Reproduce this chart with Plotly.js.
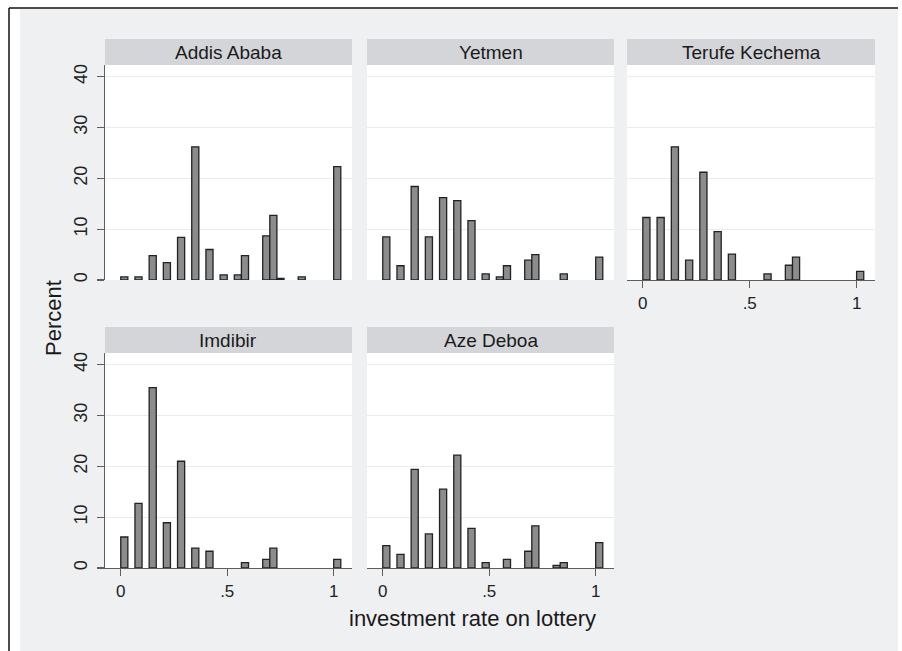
<!DOCTYPE html>
<html>
<head>
<meta charset="utf-8">
<script src="https://cdn.plot.ly/plotly-3.0.1.min.js"></script>
<style>html,body{margin:0;padding:0;background:#fff;}#chart{width:902px;height:651px;}</style>
</head>
<body>
<div id="chart"></div>
<script>
// ---- data: histogram bins (bin index, width 1/30, starting at 0) and percent per panel ----
const panelNames = ["Addis Ababa", "Yetmen", "Terufe Kechema", "Imdibir", "Aze Deboa"];
const binWidth = 1 / 30;

const addisBins = [0, 2, 4, 6, 8, 10, 12, 14, 16, 17, 20, 21, 22, 25, 30];
const addisPct  = [0.6, 0.6, 4.8, 3.4, 8.4, 26.2, 6.0, 1.0, 1.0, 4.8, 8.7, 12.7, 0.3, 0.6, 22.3];

const yetmenBins = [0, 2, 4, 6, 8, 10, 12, 14, 16, 17, 20, 21, 25, 30];
const yetmenPct  = [8.5, 2.8, 18.4, 8.5, 16.2, 15.6, 11.7, 1.2, 0.6, 2.8, 3.9, 5.0, 1.2, 4.5];

const terufeBins = [0, 2, 4, 6, 8, 10, 12, 17, 20, 21, 30];
const terufePct  = [12.3, 12.3, 26.2, 3.9, 21.2, 9.5, 5.1, 1.2, 2.9, 4.5, 1.7];

const imdibirBins = [0, 2, 4, 6, 8, 10, 12, 17, 20, 21, 30];
const imdibirPct  = [6.1, 12.7, 35.5, 8.9, 21.0, 3.9, 3.3, 1.05, 1.7, 3.9, 1.7];

const azeBins = [0, 2, 4, 6, 8, 10, 12, 14, 17, 20, 21, 24, 25, 30];
const azePct  = [4.4, 2.7, 19.4, 6.7, 15.5, 22.2, 7.8, 1.05, 1.7, 3.3, 8.3, 0.5, 1.05, 5.0];

const yTickVals = [0, 10, 20, 30, 40];
const xTickVals = [0, 0.5, 1];
const xTickText = ["0", ".5", "1"];
const yTitle = "Percent";
const xTitle = "investment rate on lottery";

// ---- layout geometry (pixels) ----
const W = 902, H = 651;
const cols = [[105, 352], [367, 614], [627, 875]];
const rows = [[65, 280], [353, 568]];
const strips = [[39, 65], [327, 353]];
const px = v => v / W;
const py = v => 1 - v / H;

const FONT = "Liberation Sans, Arial, Helvetica, sans-serif";
const BG = "#eff0f2";
const STRIP = "#d4d5d8";
const AXIS = "#5e5e5e";
const GRID = "#e9ebed";

const series = [
  [addisBins, addisPct], [yetmenBins, yetmenPct], [terufeBins, terufePct],
  [imdibirBins, imdibirPct], [azeBins, azePct]
];
const pos = [[0, 0], [0, 1], [0, 2], [1, 0], [1, 1]]; // [row, col]

const traces = [];
const layout = {
  width: W, height: H,
  margin: {l: 0, r: 0, t: 0, b: 0},
  paper_bgcolor: BG,
  plot_bgcolor: "#ffffff",
  showlegend: false,
  bargap: 0,
  font: {family: FONT, color: "#1a1a1a"},
  shapes: [],
  annotations: []
};

series.forEach((s, i) => {
  const n = i === 0 ? "" : String(i + 1);
  const [r, c] = pos[i];
  traces.push({
    type: "bar",
    x: s[0].map(k => k * binWidth),
    y: s[1],
    width: binWidth,
    offset: 0,
    xaxis: "x" + n, yaxis: "y" + n,
    marker: {color: "#8c8c8c", line: {color: "#222222", width: 1.3}},
    hoverinfo: "x+y"
  });
  const showX = (r === 1) || (i === 2);
  const showY = (c === 0);
  layout["xaxis" + n] = {
    domain: [px(cols[c][0]), px(cols[c][1])],
    anchor: "y" + n,
    range: [-0.074, 1.086],
    showgrid: false, zeroline: false,
    showline: showX, linecolor: AXIS, linewidth: 1.2,
    ticks: showX ? "outside" : "", ticklen: 7, tickcolor: AXIS, tickwidth: 1.2,
    showticklabels: showX,
    tickvals: xTickVals, ticktext: xTickText,
    tickfont: {size: 17, family: FONT, color: "#222"},
    fixedrange: true
  };
  layout["yaxis" + n] = {
    domain: [py(rows[r][1]), py(rows[r][0])],
    anchor: "x" + n,
    range: [0, 42.3],
    showgrid: true, gridcolor: GRID, gridwidth: 1.2,
    zeroline: false,
    showline: showY, linecolor: AXIS, linewidth: 1.2,
    ticks: showY ? "outside" : "", ticklen: 7, tickcolor: AXIS, tickwidth: 1.2,
    showticklabels: showY,
    tickvals: yTickVals,
    tickangle: -90,
    ticklabelstandoff: 3,
    tickfont: {size: 18, family: FONT, color: "#222"},
    fixedrange: true
  };
  // strip header
  layout.shapes.push({
    type: "rect", xref: "paper", yref: "paper",
    x0: px(cols[c][0]), x1: px(cols[c][1]),
    y0: py(strips[r][1]), y1: py(strips[r][0]),
    fillcolor: STRIP, line: {width: 0}
  });
  layout.annotations.push({
    xref: "paper", yref: "paper",
    x: px((cols[c][0] + cols[c][1]) / 2), y: py((strips[r][0] + strips[r][1]) / 2),
    xanchor: "center", yanchor: "middle",
    text: panelNames[i], showarrow: false,
    font: {size: 19, family: FONT, color: "#1a1a1a"}
  });
});

// outer frame: white margin and black border at left/top
layout.shapes.push(
  {type: "rect", xref: "paper", yref: "paper", x0: 0, x1: px(20), y0: 0, y1: 1, fillcolor: "#ffffff", line: {width: 0}, layer: "below"},
  {type: "rect", xref: "paper", yref: "paper", x0: 0, x1: 1, y0: py(9), y1: 1, fillcolor: "#ffffff", line: {width: 0}, layer: "below"},
  {type: "rect", xref: "paper", yref: "paper", x0: px(898), x1: 1, y0: 0, y1: 1, fillcolor: "#ffffff", line: {width: 0}, layer: "below"},
  {type: "line", xref: "paper", yref: "paper", x0: px(9), x1: px(898), y0: py(8), y1: py(8), line: {color: "#111", width: 1.5}},
  {type: "line", xref: "paper", yref: "paper", x0: px(9), x1: px(9), y0: py(8), y1: 0, line: {color: "#111", width: 1.5}}
);

// axis titles
layout.annotations.push(
  {xref: "paper", yref: "paper", x: px(53), y: py(318), xanchor: "center", yanchor: "middle",
   text: yTitle, textangle: -90, showarrow: false, font: {size: 22, family: FONT, color: "#1a1a1a"}},
  {xref: "paper", yref: "paper", x: px(472), y: py(618), xanchor: "center", yanchor: "middle",
   text: xTitle, showarrow: false, font: {size: 22, family: FONT, color: "#1a1a1a"}}
);

Plotly.newPlot("chart", traces, layout, {displayModeBar: false, staticPlot: true});
</script>
</body>
</html>
